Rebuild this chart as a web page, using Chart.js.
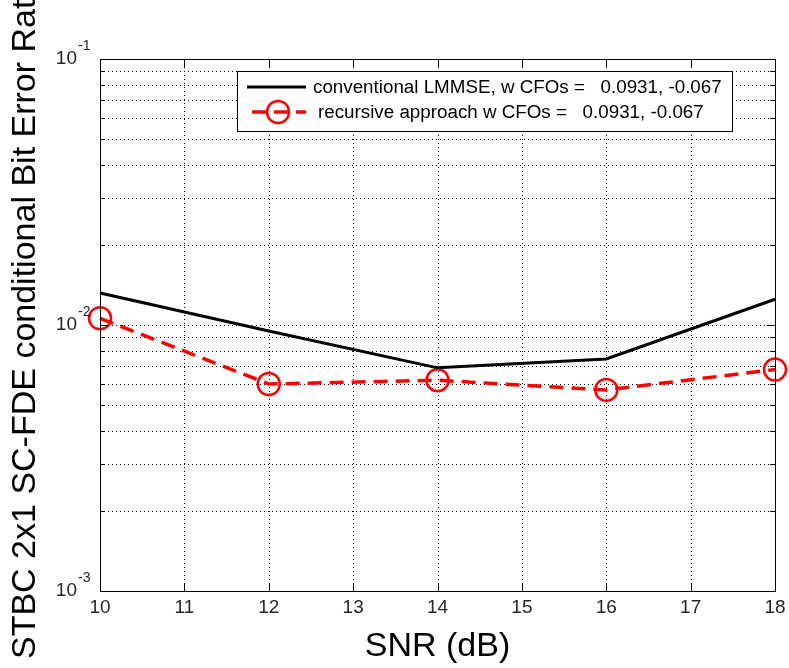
<!DOCTYPE html>
<html>
<head>
<meta charset="utf-8">
<script src="https://cdn.jsdelivr.net/npm/chart.js@4.4.0/dist/chart.umd.min.js"></script>
<style>
html,body{margin:0;padding:0;background:#fff;}
#wrap{width:789px;height:668px;position:relative;}
</style>
</head>
<body>
<div id="wrap"><canvas id="berChart" width="789" height="668"></canvas></div>
<script>
// data
const snrValues = [10, 12, 14, 16, 18];
const lmmseBer = [0.0132, 0.0095, 0.0069, 0.00745, 0.0125];
const recursiveBer = [0.0106, 0.0060, 0.0062, 0.0057, 0.0068];
const xTicks = [10, 11, 12, 13, 14, 15, 16, 17, 18];
const yDecades = [0.001, 0.01, 0.1];
const yDecadeExps = ['-3', '-2', '-1'];
const legendLabels = ['conventional LMMSE, w CFOs =   0.0931, -0.067', 'recursive approach w CFOs =   0.0931, -0.067'];
const xTitle = 'SNR (dB)';
const yTitle = 'STBC 2x1 SC-FDE conditional Bit Error Rate';

const FONT = 'Arial, "Liberation Sans", sans-serif';

function minorValues(){
    let vals = [];
    for(let i=0;i<yDecades.length-1;i++){
        for(let k=1;k<10;k++){
            if(i===0 && k===1) continue;
            vals.push(k*yDecades[i]);
        }
    }
    return vals;
}

const matlabAxes = {
    id: 'matlabAxes',
    beforeDatasetsDraw(chart){
        const {ctx, chartArea: a, scales: {x, y}} = chart;
        ctx.save();
        ctx.strokeStyle = '#000';
        ctx.lineWidth = 1;
        ctx.setLineDash([1, 3]);
        xTicks.forEach(v=>{
            if(v===x.min || v===x.max) return;
            const px = Math.round(x.getPixelForValue(v)) + 0.5;
            ctx.beginPath(); ctx.moveTo(px, a.top); ctx.lineTo(px, a.bottom); ctx.stroke();
        });
        minorValues().forEach(v=>{
            const py = Math.round(y.getPixelForValue(v)) + 0.5;
            ctx.beginPath(); ctx.moveTo(a.left, py); ctx.lineTo(a.right, py); ctx.stroke();
        });
        ctx.restore();
    },
    afterDraw(chart){
        const {ctx, chartArea: a, scales: {x, y}} = chart;
        ctx.save();
        // frame
        ctx.strokeStyle = '#000';
        ctx.lineWidth = 1;
        ctx.strokeRect(Math.round(a.left)+0.5, Math.round(a.top)+0.5, Math.round(a.right-a.left), Math.round(a.bottom-a.top));
        // ticks
        ctx.beginPath();
        xTicks.forEach(v=>{
            const px = Math.round(x.getPixelForValue(v)) + 0.5;
            ctx.moveTo(px, a.bottom); ctx.lineTo(px, a.bottom-8);
            ctx.moveTo(px, a.top); ctx.lineTo(px, a.top+8);
        });
        yDecades.forEach(v=>{
            const py = Math.round(y.getPixelForValue(v)) + 0.5;
            ctx.moveTo(a.left, py); ctx.lineTo(a.left+8, py);
            ctx.moveTo(a.right, py); ctx.lineTo(a.right-8, py);
        });
        minorValues().forEach(v=>{
            const py = Math.round(y.getPixelForValue(v)) + 0.5;
            ctx.moveTo(a.left, py); ctx.lineTo(a.left+5, py);
            ctx.moveTo(a.right, py); ctx.lineTo(a.right-5, py);
        });
        ctx.stroke();

        // tick labels
        ctx.fillStyle = '#262626';
        ctx.font = '19px ' + FONT;
        ctx.textAlign = 'center';
        ctx.textBaseline = 'middle';
        xTicks.forEach(v=>{
            ctx.fillText(String(v), x.getPixelForValue(v), a.bottom+17);
        });
        yDecades.forEach((v,i)=>{
            const py = y.getPixelForValue(v);
            ctx.font = '19px ' + FONT;
            ctx.textAlign = 'right';
            ctx.fillText('10', a.left-23, py);
            ctx.font = '14px ' + FONT;
            ctx.textAlign = 'left';
            ctx.fillText(yDecadeExps[i], a.left-22, py-13);
        });

        // axis titles
        ctx.fillStyle = '#000';
        ctx.font = '34px ' + FONT;
        ctx.textAlign = 'center';
        ctx.textBaseline = 'alphabetic';
        ctx.fillText(xTitle, (a.left+a.right)/2, 656);
        ctx.save();
        ctx.translate(35, 659);
        ctx.rotate(-Math.PI/2);
        ctx.textAlign = 'left';
        ctx.fillText(yTitle, 0, 0);
        ctx.restore();

        // legend
        ctx.textBaseline = 'middle';
        ctx.fillStyle = '#fff';
        ctx.fillRect(237, 71, 495, 60);
        ctx.strokeStyle = '#000';
        ctx.lineWidth = 1;
        ctx.strokeRect(237.5, 71.5, 495, 60);
        ctx.font = '18.8px ' + FONT;
        ctx.textAlign = 'left';
        ctx.fillStyle = '#000';
        ctx.lineWidth = 3;
        ctx.beginPath(); ctx.moveTo(247, 87); ctx.lineTo(306, 87); ctx.stroke();
        ctx.fillText(legendLabels[0], 313, 88);
        ctx.strokeStyle = '#ff0000';
        ctx.lineWidth = 3.5;
        ctx.setLineDash([14, 8]);
        ctx.beginPath(); ctx.moveTo(252, 112); ctx.lineTo(306, 112); ctx.stroke();
        ctx.setLineDash([]);
        ctx.lineWidth = 2.5;
        ctx.beginPath(); ctx.arc(278, 112, 11, 0, Math.PI*2); ctx.stroke();
        ctx.fillText(legendLabels[1], 318, 113);
        ctx.restore();
    }
};

const ctx = document.getElementById('berChart').getContext('2d');
new Chart(ctx, {
    type: 'line',
    data: {
        datasets: [
            {
                label: legendLabels[0],
                data: snrValues.map((s,i)=>({x: s, y: lmmseBer[i]})),
                borderColor: '#000',
                borderWidth: 3,
                pointRadius: 0,
                tension: 0,
                clip: false
            },
            {
                label: legendLabels[1],
                data: snrValues.map((s,i)=>({x: s, y: recursiveBer[i]})),
                borderColor: '#ff0000',
                borderWidth: 3.5,
                borderDash: [14, 8],
                pointStyle: 'circle',
                pointRadius: 11,
                pointBorderWidth: 2.5,
                pointBorderColor: '#ff0000',
                pointBackgroundColor: 'rgba(0,0,0,0)',
                tension: 0,
                clip: false
            }
        ]
    },
    options: {
        responsive: false,
        animation: false,
        devicePixelRatio: 1,
        layout: {padding: {left: 100, right: 14, top: 59, bottom: 77}},
        plugins: {legend: {display: false}, tooltip: {enabled: false}},
        scales: {
            x: {
                type: 'linear', min: 10, max: 18,
                ticks: {display: false, stepSize: 1},
                grid: {display: false, drawTicks: false},
                border: {display: false}
            },
            y: {
                type: 'logarithmic', min: 0.001, max: 0.1,
                ticks: {display: false},
                grid: {display: false, drawTicks: false},
                border: {display: false}
            }
        }
    },
    plugins: [matlabAxes]
});
</script>
</body>
</html>
